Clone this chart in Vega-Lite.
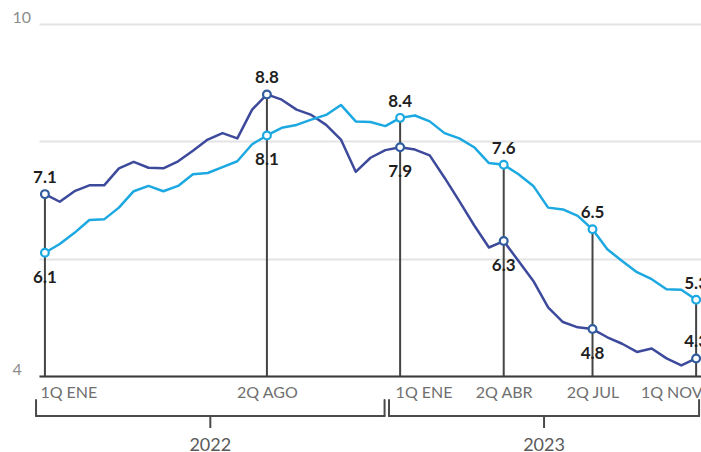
{
  "$schema": "https://vega.github.io/schema/vega-lite/v6.json",
  "width": 662,
  "height": 352,
  "autosize": {"type": "none"},
  "padding": {"left": 39, "top": 24, "right": 0, "bottom": 76},
  "background": "white",
  "config": {"view": {"stroke": null}, "font": "Lato"},
  "datasets": {
    "series": [
      {"i": 0, "serie": "General", "v": 7.1}, {"i": 1, "serie": "General", "v": 6.97}, {"i": 2, "serie": "General", "v": 7.15},
      {"i": 3, "serie": "General", "v": 7.25}, {"i": 4, "serie": "General", "v": 7.25}, {"i": 5, "serie": "General", "v": 7.54},
      {"i": 6, "serie": "General", "v": 7.65}, {"i": 7, "serie": "General", "v": 7.55}, {"i": 8, "serie": "General", "v": 7.54},
      {"i": 9, "serie": "General", "v": 7.66}, {"i": 10, "serie": "General", "v": 7.84}, {"i": 11, "serie": "General", "v": 8.03},
      {"i": 12, "serie": "General", "v": 8.14}, {"i": 13, "serie": "General", "v": 8.05}, {"i": 14, "serie": "General", "v": 8.54},
      {"i": 15, "serie": "General", "v": 8.8}, {"i": 16, "serie": "General", "v": 8.71}, {"i": 17, "serie": "General", "v": 8.54},
      {"i": 18, "serie": "General", "v": 8.45}, {"i": 19, "serie": "General", "v": 8.28}, {"i": 20, "serie": "General", "v": 8.03},
      {"i": 21, "serie": "General", "v": 7.48}, {"i": 22, "serie": "General", "v": 7.72}, {"i": 23, "serie": "General", "v": 7.85},
      {"i": 24, "serie": "General", "v": 7.9}, {"i": 25, "serie": "General", "v": 7.86}, {"i": 26, "serie": "General", "v": 7.76},
      {"i": 27, "serie": "General", "v": 7.38}, {"i": 28, "serie": "General", "v": 6.98}, {"i": 29, "serie": "General", "v": 6.57},
      {"i": 30, "serie": "General", "v": 6.19}, {"i": 31, "serie": "General", "v": 6.3}, {"i": 32, "serie": "General", "v": 5.96},
      {"i": 33, "serie": "General", "v": 5.62}, {"i": 34, "serie": "General", "v": 5.17}, {"i": 35, "serie": "General", "v": 4.92},
      {"i": 36, "serie": "General", "v": 4.83}, {"i": 37, "serie": "General", "v": 4.8}, {"i": 38, "serie": "General", "v": 4.66},
      {"i": 39, "serie": "General", "v": 4.55}, {"i": 40, "serie": "General", "v": 4.41}, {"i": 41, "serie": "General", "v": 4.47},
      {"i": 42, "serie": "General", "v": 4.3}, {"i": 43, "serie": "General", "v": 4.18}, {"i": 44, "serie": "General", "v": 4.3},
      {"i": 0, "serie": "Subyacente", "v": 6.1}, {"i": 1, "serie": "Subyacente", "v": 6.25}, {"i": 2, "serie": "Subyacente", "v": 6.44},
      {"i": 3, "serie": "Subyacente", "v": 6.66}, {"i": 4, "serie": "Subyacente", "v": 6.67}, {"i": 5, "serie": "Subyacente", "v": 6.87},
      {"i": 6, "serie": "Subyacente", "v": 7.15}, {"i": 7, "serie": "Subyacente", "v": 7.24}, {"i": 8, "serie": "Subyacente", "v": 7.15},
      {"i": 9, "serie": "Subyacente", "v": 7.24}, {"i": 10, "serie": "Subyacente", "v": 7.44}, {"i": 11, "serie": "Subyacente", "v": 7.46},
      {"i": 12, "serie": "Subyacente", "v": 7.56}, {"i": 13, "serie": "Subyacente", "v": 7.66}, {"i": 14, "serie": "Subyacente", "v": 7.95},
      {"i": 15, "serie": "Subyacente", "v": 8.1}, {"i": 16, "serie": "Subyacente", "v": 8.23}, {"i": 17, "serie": "Subyacente", "v": 8.28},
      {"i": 18, "serie": "Subyacente", "v": 8.37}, {"i": 19, "serie": "Subyacente", "v": 8.45}, {"i": 20, "serie": "Subyacente", "v": 8.62},
      {"i": 21, "serie": "Subyacente", "v": 8.34}, {"i": 22, "serie": "Subyacente", "v": 8.33}, {"i": 23, "serie": "Subyacente", "v": 8.26},
      {"i": 24, "serie": "Subyacente", "v": 8.4}, {"i": 25, "serie": "Subyacente", "v": 8.44}, {"i": 26, "serie": "Subyacente", "v": 8.34},
      {"i": 27, "serie": "Subyacente", "v": 8.14}, {"i": 28, "serie": "Subyacente", "v": 8.05}, {"i": 29, "serie": "Subyacente", "v": 7.9},
      {"i": 30, "serie": "Subyacente", "v": 7.63}, {"i": 31, "serie": "Subyacente", "v": 7.6}, {"i": 32, "serie": "Subyacente", "v": 7.44},
      {"i": 33, "serie": "Subyacente", "v": 7.24}, {"i": 34, "serie": "Subyacente", "v": 6.87}, {"i": 35, "serie": "Subyacente", "v": 6.84},
      {"i": 36, "serie": "Subyacente", "v": 6.73}, {"i": 37, "serie": "Subyacente", "v": 6.5}, {"i": 38, "serie": "Subyacente", "v": 6.16},
      {"i": 39, "serie": "Subyacente", "v": 5.96}, {"i": 40, "serie": "Subyacente", "v": 5.77}, {"i": 41, "serie": "Subyacente", "v": 5.65},
      {"i": 42, "serie": "Subyacente", "v": 5.48}, {"i": 43, "serie": "Subyacente", "v": 5.47}, {"i": 44, "serie": "Subyacente", "v": 5.3}
    ],
    "anios": [
      {"anio": "2022", "inicio": -0.6, "fin": 22.95},
      {"anio": "2023", "inicio": 23.25, "fin": 44.2}
    ]
  },
  "layer": [
    {
      "data": {"name": "series"},
      "transform": [
        {"filter": {"field": "i", "oneOf": [0, 15, 24, 31, 37, 44]}},
        {"aggregate": [{"op": "max", "field": "v", "as": "vmax"}], "groupby": ["i"]}
      ],
      "mark": {"type": "rule", "color": "#444444", "strokeWidth": 2},
      "encoding": {
        "x": {
          "field": "i", "type": "quantitative",
          "scale": {"domain": [-0.4, 44.33], "nice": false, "zero": false},
          "axis": {
            "values": [0, 15, 24, 31, 37, 44],
            "labelExpr": "datum.value == 0 || datum.value == 24 ? '1Q ENE' : datum.value == 15 ? '2Q AGO' : datum.value == 31 ? '2Q ABR' : datum.value == 37 ? '2Q JUL' : '1Q NOV'",
            "title": null,
            "ticks": false,
            "tickSize": 0,
            "grid": false,
            "domainColor": "#3a3a3a",
            "domainWidth": 2,
            "labelFont": "Lato",
            "labelFontSize": 16,
            "labelColor": "#707070",
            "labelPadding": 8,
            "labelFlush": false,
            "labelOverlap": false,
            "labelAlign": {"condition": [{"test": "datum.value === 44", "value": "right"}, {"test": "datum.value === 0 || datum.value === 24", "value": "left"}], "value": "center"},
            "labelOffset": {"condition": [{"test": "datum.value === 44", "value": 6}, {"test": "datum.value === 0 || datum.value === 24", "value": -5}], "value": 0}
          }
        },
        "y": {
          "field": "vmax", "type": "quantitative",
          "scale": {"domain": [4, 10], "nice": false, "zero": false},
          "axis": {
            "values": [4, 6, 8, 10],
            "format": "d",
            "labelExpr": "datum.value == 4 || datum.value == 10 ? datum.label : ''",
            "title": null,
            "domain": false,
            "ticks": false,
            "tickSize": 0,
            "grid": true,
            "gridColor": "#e4e4e4",
            "gridWidth": 2,
            "labelAlign": "left",
            "labelBaseline": "alphabetic",
            "labelPadding": 27,
            "labelOffset": -2,
            "labelFont": "Lato",
            "labelFontSize": 16,
            "labelColor": "#8c8c8c"
          }
        },
        "y2": {"datum": 4}
      }
    },
    {
      "data": {"name": "series"},
      "mark": {"type": "line", "strokeWidth": 2.5, "strokeJoin": "round"},
      "encoding": {
        "x": {"field": "i", "type": "quantitative"},
        "y": {"field": "v", "type": "quantitative"},
        "color": {"field": "serie", "type": "nominal", "scale": {"domain": ["General", "Subyacente"], "range": ["#3d4a9b", "#1ca8e1"]}, "legend": null}
      }
    },
    {
      "data": {"name": "series"},
      "transform": [{"filter": {"field": "i", "oneOf": [0, 15, 24, 31, 37, 44]}}],
      "mark": {"type": "point", "shape": "circle", "filled": true, "fill": "white", "size": 60, "strokeWidth": 2.2, "opacity": 1},
      "encoding": {
        "x": {"field": "i", "type": "quantitative"},
        "y": {"field": "v", "type": "quantitative"},
        "stroke": {"field": "serie", "type": "nominal", "scale": {"domain": ["General", "Subyacente"], "range": ["#2f5c9e", "#1ca8e1"]}, "legend": null}
      }
    },
    {
      "data": {"name": "series"},
      "transform": [{"filter": "(datum.serie == 'General' && (datum.i == 0 || datum.i == 15 || datum.i == 44)) || (datum.serie == 'Subyacente' && (datum.i == 24 || datum.i == 31 || datum.i == 37 || datum.i == 44))"}],
      "mark": {"type": "text", "font": "Lato", "fontWeight": "bold", "fontSize": 17, "color": "#1f1f1f", "align": "center", "baseline": "alphabetic", "dy": -11},
      "encoding": {
        "x": {"field": "i", "type": "quantitative"},
        "y": {"field": "v", "type": "quantitative"},
        "text": {"field": "v", "type": "quantitative", "format": ".1f"}
      }
    },
    {
      "data": {"name": "series"},
      "transform": [{"filter": "(datum.serie == 'General' && (datum.i == 24 || datum.i == 31 || datum.i == 37)) || (datum.serie == 'Subyacente' && (datum.i == 0 || datum.i == 15))"}],
      "mark": {"type": "text", "font": "Lato", "fontWeight": "bold", "fontSize": 17, "color": "#1f1f1f", "align": "center", "baseline": "alphabetic", "dy": 30},
      "encoding": {
        "x": {"field": "i", "type": "quantitative"},
        "y": {"field": "v", "type": "quantitative"},
        "text": {"field": "v", "type": "quantitative", "format": ".1f"}
      }
    },
    {
      "data": {"name": "anios"},
      "mark": {"type": "rule", "color": "#4a4a4a", "strokeWidth": 2, "strokeCap": "round"},
      "encoding": {
        "x": {"field": "inicio", "type": "quantitative"},
        "x2": {"field": "fin"},
        "y": {"datum": 3.318}
      }
    },
    {
      "data": {"name": "anios"},
      "mark": {"type": "rule", "color": "#4a4a4a", "strokeWidth": 2, "strokeCap": "round"},
      "encoding": {
        "x": {"field": "inicio", "type": "quantitative"},
        "y": {"datum": 3.59},
        "y2": {"datum": 3.318}
      }
    },
    {
      "data": {"name": "anios"},
      "mark": {"type": "rule", "color": "#4a4a4a", "strokeWidth": 2, "strokeCap": "round"},
      "encoding": {
        "x": {"field": "fin", "type": "quantitative"},
        "y": {"datum": 3.59},
        "y2": {"datum": 3.318}
      }
    },
    {
      "data": {"name": "anios"},
      "transform": [{"calculate": "(datum.inicio + datum.fin) / 2", "as": "mitad"}],
      "mark": {"type": "rule", "color": "#4a4a4a", "strokeWidth": 2},
      "encoding": {
        "x": {"field": "mitad", "type": "quantitative"},
        "y": {"datum": 3.318},
        "y2": {"datum": 3.114}
      }
    },
    {
      "data": {"name": "anios"},
      "transform": [{"calculate": "(datum.inicio + datum.fin) / 2", "as": "mitad"}],
      "mark": {"type": "text", "font": "Lato", "fontSize": 18, "color": "#5a5a5a", "align": "center", "baseline": "alphabetic"},
      "encoding": {
        "x": {"field": "mitad", "type": "quantitative"},
        "y": {"datum": 2.72},
        "text": {"field": "anio", "type": "nominal"}
      }
    }
  ]
}
